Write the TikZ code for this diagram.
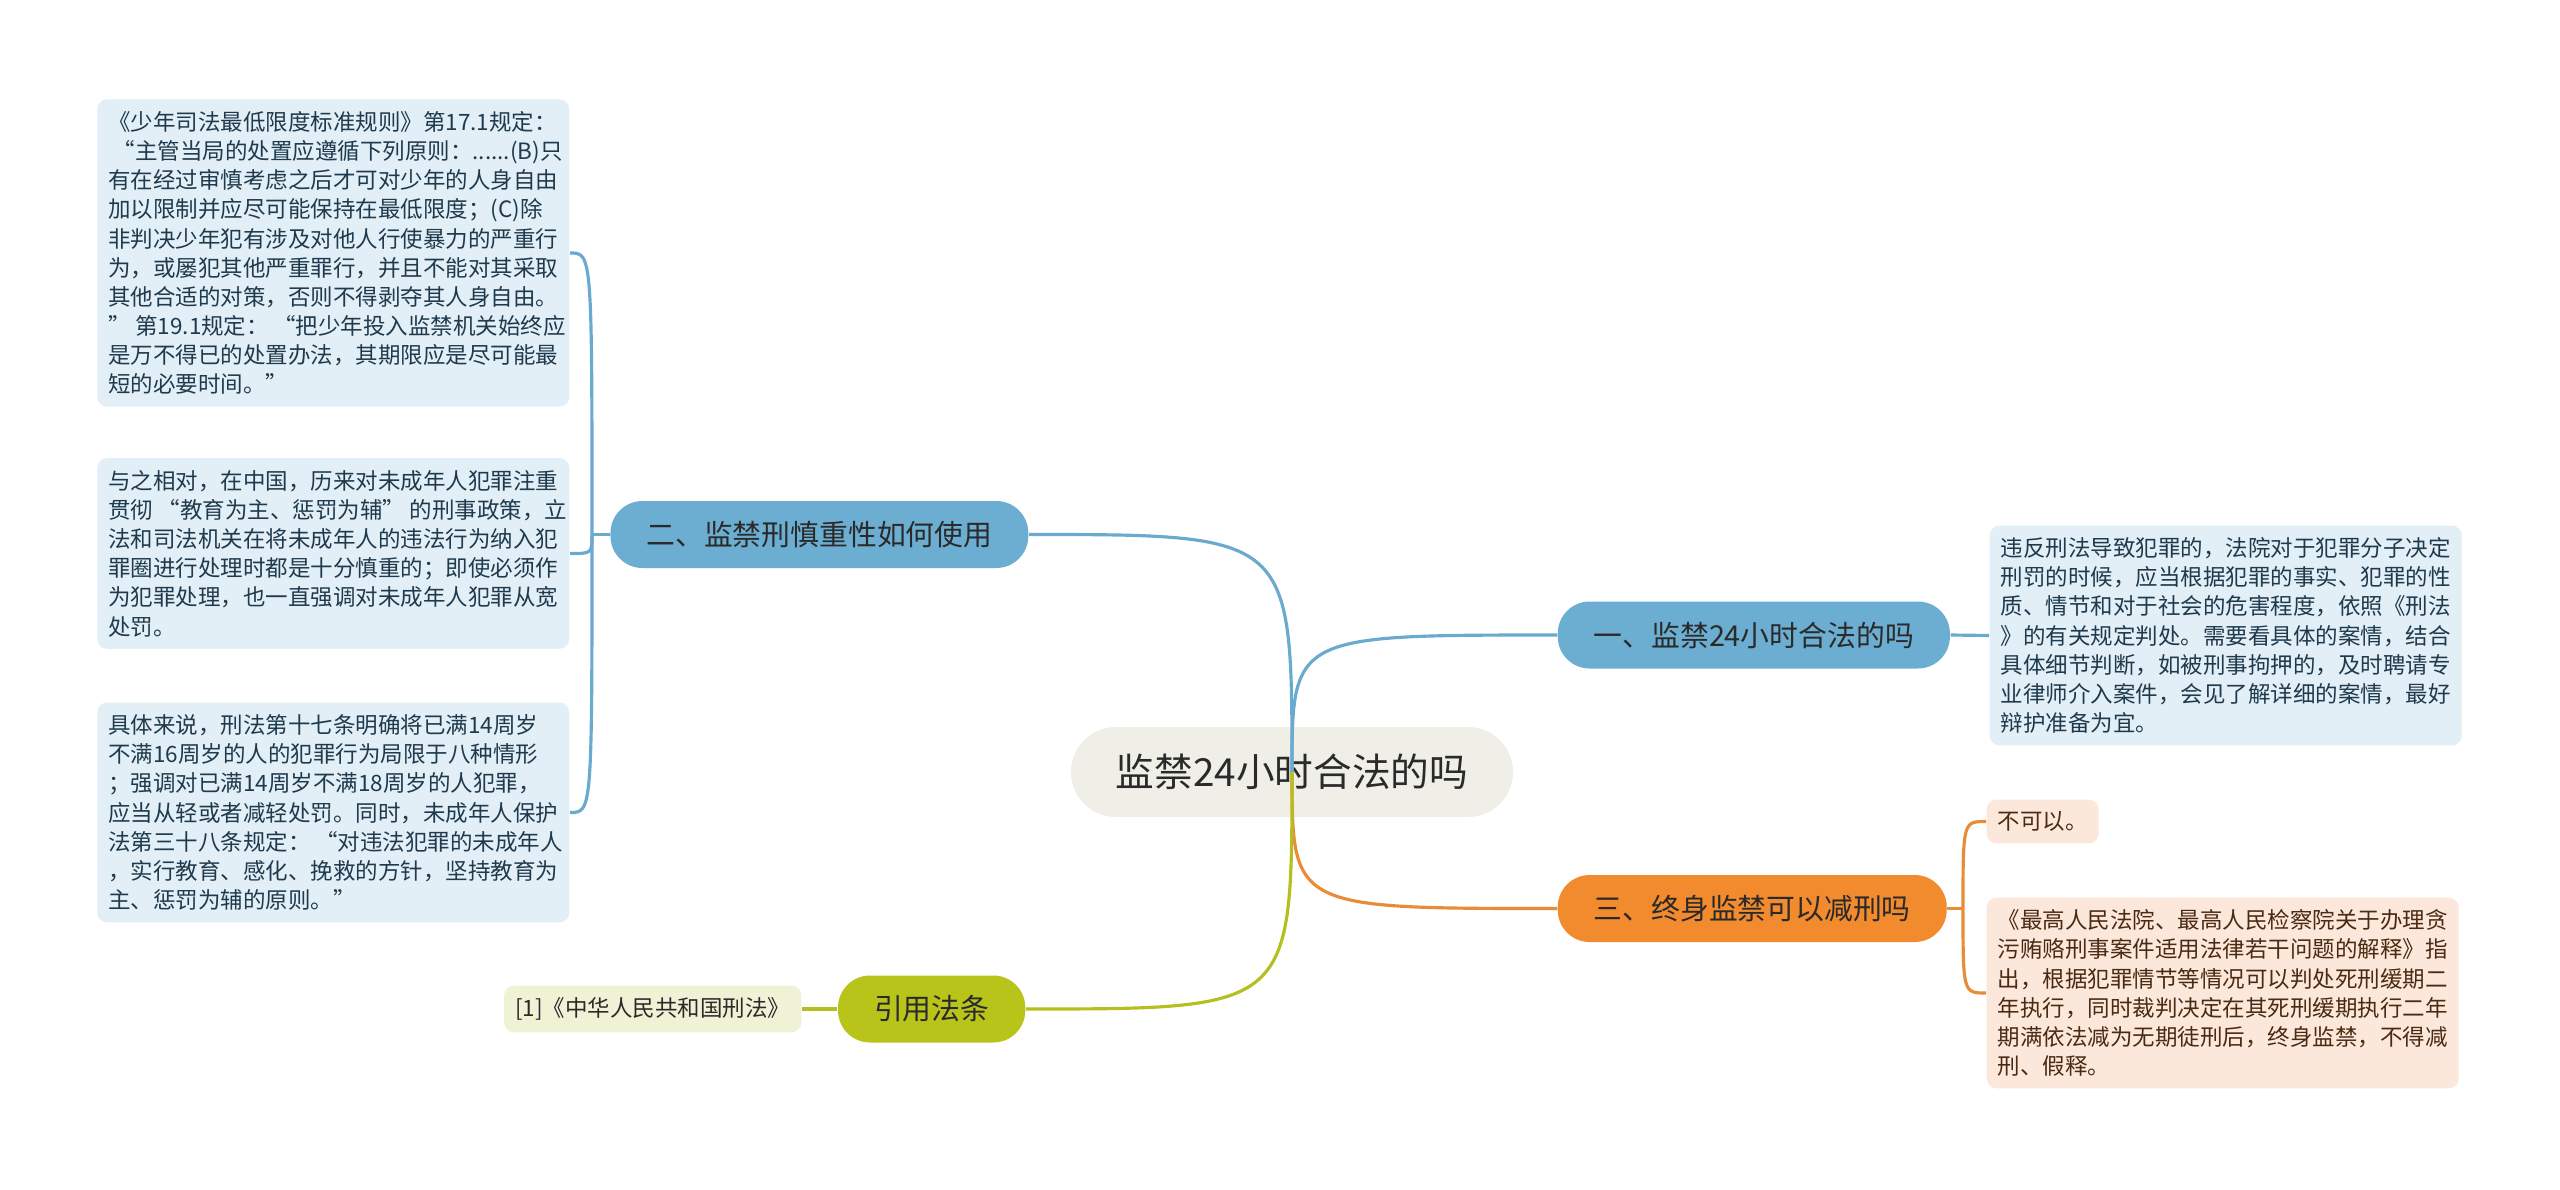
\documentclass[tikz,border=0pt]{standalone}
\usepackage{fontspec}
\setmainfont{Noto Sans CJK SC}
\newcommand{\qopen}{\hspace*{.2em}“}
\newcommand{\qclose}{”\hspace*{.2em}}
\definecolor{rootfill}{HTML}{EFEFE8}
\definecolor{bluebranch}{HTML}{6CAED2}
\definecolor{blueline}{HTML}{6AAACF}
\definecolor{blueleaf}{HTML}{E2EFF7}
\definecolor{bluetext}{HTML}{1F3A4C}
\definecolor{orangebranch}{HTML}{F28A2E}
\definecolor{orangeline}{HTML}{E88C3A}
\definecolor{orangeleaf}{HTML}{FCE8DA}
\definecolor{orangetext}{HTML}{4A2A12}
\definecolor{olivebranch}{HTML}{B9C41B}
\definecolor{oliveline}{HTML}{B5C020}
\definecolor{oliveleaf}{HTML}{F0F2D6}
\definecolor{inktext}{HTML}{2A2A2A}
\begin{document}
\begin{tikzpicture}[
		rootbox/.style={fill=rootfill, rounded corners=.45cm, minimum height=.9cm, inner xsep=.45cm, text=inktext, font=\fontsize{11pt}{13pt}\selectfont},
		branchbox/.style={rounded corners=.32cm, minimum height=.67cm, inner xsep=.36cm, text=inktext, font=\fontsize{8.2pt}{10pt}\selectfont},
		leafbox/.style={rounded corners=.1cm, inner xsep=.11cm, inner ysep=.12cm, align=left, font=\fontsize{6.4pt}{8.3pt}\selectfont},
		wideleaf/.style={leafbox, text width=4.5cm},
		link/.style={line width=.9pt},
	]
			\useasboundingbox [fill=white] (0,0) rectangle (25.6,-11.89);

			\node (root) [rootbox] at (12.92,-7.72) {监禁24小时合法的吗};

			\draw [link, blueline] (root.center) .. controls (12.92,-6.35) .. (15.57,-6.35) coordinate (b1in);
			\draw [link, blueline] (root.center) .. controls (12.92,-5.345) .. (10.29,-5.345) coordinate (b2in);
			\draw [link, orangeline] (root.center) .. controls (12.92,-9.085) .. (15.57,-9.085) coordinate (b3in);
			\draw [link, oliveline] (root.center) .. controls (12.92,-10.09) .. (10.26,-10.09) coordinate (b4in);

			\node (b1) [branchbox, fill=bluebranch, anchor=west] at (b1in) {一、监禁24小时合法的吗};
			\node (b2) [branchbox, fill=bluebranch, anchor=east] at (b2in) {二、监禁刑慎重性如何使用};
			\node (b3) [branchbox, fill=orangebranch, anchor=west] at (b3in) {三、终身监禁可以减刑吗};
			\node (b4) [branchbox, fill=olivebranch, anchor=east] at (b4in) {引用法条};

			\node (l1) [wideleaf, fill=blueleaf, text=bluetext, anchor=west] at (19.89,-6.355) {
				违反刑法导致犯罪的，法院对于犯罪分子决定\\
				刑罚的时候，应当根据犯罪的事实、犯罪的性\\
				质、情节和对于社会的危害程度，依照《刑法\\
				》的有关规定判处。需要看具体的案情，结合\\
				具体细节判断，如被刑事拘押的，及时聘请专\\
				业律师介入案件，会见了解详细的案情，最好\\
				辩护准备为宜。
			};
			\node (l2a) [wideleaf, fill=blueleaf, text=bluetext, anchor=east] at (5.70,-2.53) {
				《少年司法最低限度标准规则》第17.1规定：\\
				\qopen 主管当局的处置应遵循下列原则：......(B)只\\
				有在经过审慎考虑之后才可对少年的人身自由\\
				加以限制并应尽可能保持在最低限度；(C)除\\
				非判决少年犯有涉及对他人行使暴力的严重行\\
				为，或屡犯其他严重罪行，并且不能对其采取\\
				其他合适的对策，否则不得剥夺其人身自由。\\
				\qclose 第19.1规定：\qopen 把少年投入监禁机关始终应\\
				是万不得已的处置办法，其期限应是尽可能最\\
				短的必要时间。”
			};
			\node (l2b) [wideleaf, fill=blueleaf, text=bluetext, anchor=east] at (5.70,-5.535) {
				与之相对，在中国，历来对未成年人犯罪注重\\
				贯彻\qopen 教育为主、惩罚为辅\qclose 的刑事政策，立\\
				法和司法机关在将未成年人的违法行为纳入犯\\
				罪圈进行处理时都是十分慎重的；即使必须作\\
				为犯罪处理，也一直强调对未成年人犯罪从宽\\
				处罚。
			};
			\node (l2c) [wideleaf, fill=blueleaf, text=bluetext, anchor=east] at (5.70,-8.125) {
				具体来说，刑法第十七条明确将已满14周岁\\
				不满16周岁的人的犯罪行为局限于八种情形\\
				；强调对已满14周岁不满18周岁的人犯罪，\\
				应当从轻或者减轻处罚。同时，未成年人保护\\
				法第三十八条规定：\qopen 对违法犯罪的未成年人\\
				，实行教育、感化、挽救的方针，坚持教育为\\
				主、惩罚为辅的原则。”
			};
			\node (l3a) [leafbox, fill=orangeleaf, text=orangetext, anchor=west] at (19.86,-8.215) {不可以。};
			\node (l3b) [wideleaf, fill=orangeleaf, text=orangetext, anchor=west] at (19.86,-9.93) {
				《最高人民法院、最高人民检察院关于办理贪\\
				污贿赂刑事案件适用法律若干问题的解释》指\\
				出，根据犯罪情节等情况可以判处死刑缓期二\\
				年执行，同时裁判决定在其死刑缓期执行二年\\
				期满依法减为无期徒刑后，终身监禁，不得减\\
				刑、假释。
			};
			\node (l4) [leafbox, fill=oliveleaf, text=inktext, anchor=east] at (8.02,-10.09) {[1]《中华人民共和国刑法》};

			\coordinate (j2) at (5.92,-5.345);
			\coordinate (j3) at (19.63,-9.085);

			\draw [link, blueline] (b1.east) -- (l1.west);
			\draw [link, blueline] (b2.west) -- (j2);
			\foreach \leaf in {l2a,l2b,l2c}
				\draw [link, blueline] (j2) .. controls (j2 |- \leaf.east) .. (\leaf.east);
			\draw [link, orangeline] (b3.east) -- (j3);
			\foreach \leaf in {l3a,l3b}
				\draw [link, orangeline] (j3) .. controls (j3 |- \leaf.west) .. (\leaf.west);
			\draw [link, oliveline] (b4.west) -- (l4.east);
		\end{tikzpicture}
\end{document}
